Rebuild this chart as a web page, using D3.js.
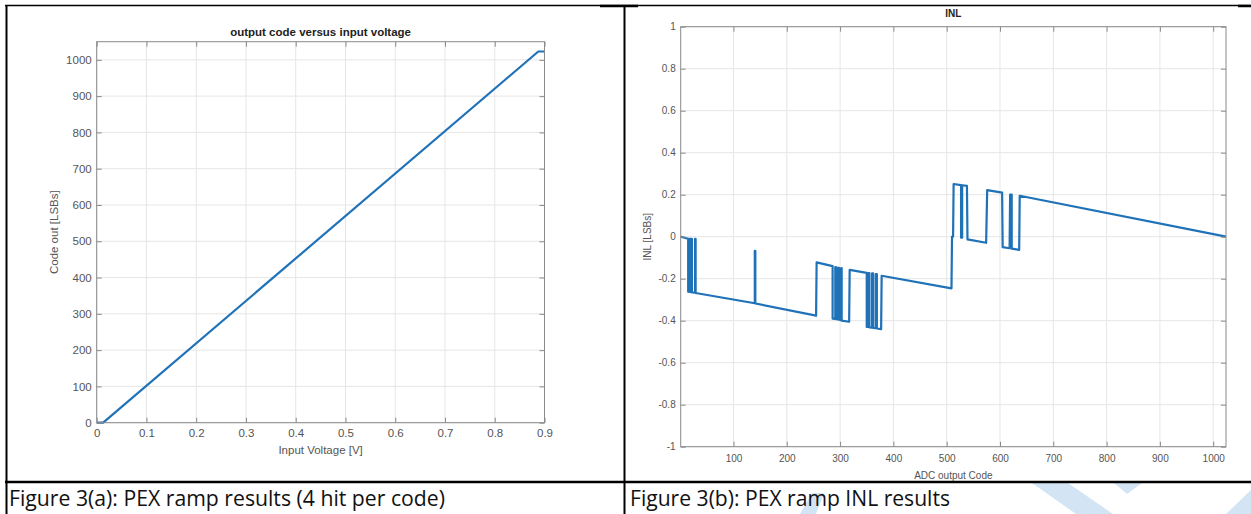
<!DOCTYPE html>
<html>
<head>
<meta charset="utf-8">
<script src="https://cdn.jsdelivr.net/npm/d3@7"></script>
<style>
  body { margin: 0; background: #fff; }
  svg text { font-family: "Liberation Sans", Arial, sans-serif; }
</style>
</head>
<body>
<svg width="1251" height="514"></svg>
<script>
// ---- figure 3(a): ramp transfer curve (breakpoints)
let rampVolts = [0, 0.013, 0.8876, 0.9]
let rampCodes = [0, 0, 1023, 1023]
let rampXTicks = [0, 0.1, 0.2, 0.3, 0.4, 0.5, 0.6, 0.7, 0.8, 0.9]
let rampXLabels = ["0", "0.1", "0.2", "0.3", "0.4", "0.5", "0.6", "0.7", "0.8", "0.9"]
let rampYTicks = [0, 100, 200, 300, 400, 500, 600, 700, 800, 900, 1000]

// ---- figure 3(b): INL vs output code (vertices of the step trace)
let inlCodes = [1, 15, 15, 17, 17, 19, 19, 21, 21, 22, 22, 28, 28, 29, 29,
  140, 140, 141, 141, 255, 256, 286, 286, 291, 291, 293, 293, 296, 296, 298, 298,
  302, 302, 303, 303, 317, 318, 350, 350, 353, 353, 355, 355, 360, 360, 362, 362,
  367, 367, 369, 369, 377, 378, 509, 510, 512, 513, 527, 527, 529, 529, 538, 539,
  574, 576, 604, 605, 618, 619, 622, 622, 636, 637, 1024]
let inlValues = [0, -0.01, -0.262, -0.263, -0.01, -0.01, -0.263, -0.264, -0.01, -0.01, -0.265, -0.267, -0.01, -0.01, -0.268,
  -0.317, -0.067, -0.067, -0.318, -0.376, -0.122, -0.14, -0.39, -0.392, -0.145, -0.146, -0.393, -0.394, -0.148, -0.148, -0.395,
  -0.397, -0.15, -0.15, -0.4, -0.405, -0.158, -0.172, -0.43, -0.43, -0.173, -0.173, -0.432, -0.433, -0.175, -0.175, -0.434,
  -0.436, -0.178, -0.178, -0.437, -0.44, -0.186, -0.246, 0, 0, 0.251, 0.246, -0.005, -0.005, 0.245, 0.242, -0.013,
  -0.029, 0.222, 0.21, -0.05, -0.055, 0.2, 0.2, -0.057, -0.063, 0.195, 0]
let inlXTicks = [100, 200, 300, 400, 500, 600, 700, 800, 900, 1000]
let inlYTicks = [-1, -0.8, -0.6, -0.4, -0.2, 0, 0.2, 0.4, 0.6, 0.8, 1]
let inlYLabels = ["-1", "-0.8", "-0.6", "-0.4", "-0.2", "0", "0.2", "0.4", "0.6", "0.8", "1"]

let captions = ["Figure 3(a): PEX ramp results (4 hit per code)", "Figure 3(b): PEX ramp INL results"]

let svg = d3.select("svg")
let lineBlue = "#1f72b8"

// faint watermark pieces in the caption row
let wm = svg.append("g").attr("fill", "#d3e4f4")
wm.append("polygon").attr("points", "812,493 824,493 816,514 800,514")
wm.append("polygon").attr("points", "1032,483 1068,483 1113,514 1076,514")
wm.append("polygon").attr("points", "1114,483 1142,483 1127,494")
wm.append("polygon").attr("points", "1226,514 1251,490 1251,514")

function panel(o) {
  let g = svg.append("g")
  let x = d3.scaleLinear().domain(o.xDomain).range([o.left, o.right])
  let y = d3.scaleLinear().domain(o.yDomain).range([o.bottom, o.top])

  // grid
  g.append("g").selectAll("line").data(o.xTicks).join("line")
    .attr("x1", d => x(d)).attr("x2", d => x(d))
    .attr("y1", o.top).attr("y2", o.bottom)
    .attr("stroke", "#e6e6e6")
  g.append("g").selectAll("line").data(o.yTicks).join("line")
    .attr("y1", d => y(d)).attr("y2", d => y(d))
    .attr("x1", o.left).attr("x2", o.right)
    .attr("stroke", "#e6e6e6")

  // data trace
  let pts = o.xs.map((v, i) => [v, o.ys[i]])
  g.append("path").datum(pts)
    .attr("fill", "none")
    .attr("stroke", lineBlue)
    .attr("stroke-width", 2.2)
    .attr("stroke-linejoin", "round")
    .attr("d", d3.line().x(d => x(d[0])).y(d => y(d[1])))

  // axes, MATLAB style ticks pointing in
  let axes = [
    [d3.axisBottom(x).tickValues(o.xTicks).tickFormat((d, i) => o.xLabels[i]).tickPadding(o.xPad), `translate(0,${o.bottom})`],
    [d3.axisTop(x).tickValues(o.xTicks).tickFormat(""), `translate(0,${o.top})`],
    [d3.axisLeft(y).tickValues(o.yTicks).tickFormat((d, i) => o.yLabels[i]).tickPadding(o.yPad), `translate(${o.left},0)`],
    [d3.axisRight(y).tickValues(o.yTicks).tickFormat(""), `translate(${o.right},0)`]
  ]
  axes.forEach(a => {
    let ax = g.append("g").attr("transform", a[1])
      .call(a[0].tickSize(-o.tick).tickSizeOuter(0))
    ax.select(".domain").remove()
    ax.selectAll("line").attr("stroke", "#8a8a8a")
    ax.selectAll("text").attr("fill", "#555").style("font-size", o.font + "px")
  })

  g.append("rect")
    .attr("x", o.left).attr("y", o.top)
    .attr("width", o.right - o.left).attr("height", o.bottom - o.top)
    .attr("fill", "none").attr("stroke", "#8a8a8a")

  g.append("text").attr("x", (o.left + o.right) / 2).attr("y", o.titleY)
    .attr("text-anchor", "middle").attr("font-weight", "bold")
    .style("font-size", o.font + "px").attr("fill", "#222").text(o.title)
  g.append("text").attr("x", (o.left + o.right) / 2).attr("y", o.xLabelY)
    .attr("text-anchor", "middle").style("font-size", o.font + "px")
    .attr("fill", "#555").text(o.xTitle)
  g.append("text")
    .attr("transform", `translate(${o.yLabelX},${(o.top + o.bottom) / 2}) rotate(-90)`)
    .attr("text-anchor", "middle").style("font-size", o.font + "px")
    .attr("fill", "#555").text(o.yTitle)
}

panel({
  left: 96.7, right: 544.5, top: 41.7, bottom: 422.7,
  xDomain: [0, 0.9], yDomain: [0, 1050],
  xs: rampVolts, ys: rampCodes,
  xTicks: rampXTicks, xLabels: rampXLabels,
  yTicks: rampYTicks, yLabels: rampYTicks.map(String),
  xPad: 6, yPad: 5, tick: 5, font: 11.5,
  title: "output code versus input voltage", titleY: 36,
  xTitle: "Input Voltage [V]", xLabelY: 454,
  yTitle: "Code out [LSBs]", yLabelX: 58
})

panel({
  left: 680.7, right: 1226, top: 26.7, bottom: 446.7,
  xDomain: [1, 1024], yDomain: [-1, 1],
  xs: inlCodes, ys: inlValues,
  xTicks: inlXTicks, xLabels: inlXTicks.map(String),
  yTicks: inlYTicks, yLabels: inlYLabels,
  xPad: 8, yPad: 5, tick: 5, font: 10,
  title: "INL", titleY: 17,
  xTitle: "ADC output Code", xLabelY: 479,
  yTitle: "INL [LSBs]", yLabelX: 651
})

// table borders
let border = svg.append("g").attr("stroke", "#000")
border.append("line").attr("x1", 5).attr("x2", 1251).attr("y1", 5.5).attr("y2", 5.5).attr("stroke-width", 1.5)
border.append("line").attr("x1", 600).attr("x2", 638).attr("y1", 6).attr("y2", 6).attr("stroke-width", 2.5)
border.append("line").attr("x1", 1238).attr("x2", 1251).attr("y1", 6).attr("y2", 6).attr("stroke-width", 2.5)
border.append("line").attr("x1", 6.5).attr("x2", 6.5).attr("y1", 5).attr("y2", 514).attr("stroke-width", 2)
border.append("line").attr("x1", 624.5).attr("x2", 624.5).attr("y1", 5).attr("y2", 514).attr("stroke-width", 2)
border.append("line").attr("x1", 5).attr("x2", 1251).attr("y1", 482).attr("y2", 482).attr("stroke-width", 2.5)

// captions
svg.selectAll(".cap").data(captions).join("text")
  .attr("class", "cap")
  .attr("x", (d, i) => i ? 630 : 9)
  .attr("y", 506)
  .attr("textLength", (d, i) => i ? 320 : 436)
  .attr("lengthAdjust", "spacingAndGlyphs")
  .style("font-family", "'Open Sans', 'Noto Sans', sans-serif")
  .style("font-size", "22px")
  .attr("fill", "#111")
  .text(d => d)
</script>
</body>
</html>
